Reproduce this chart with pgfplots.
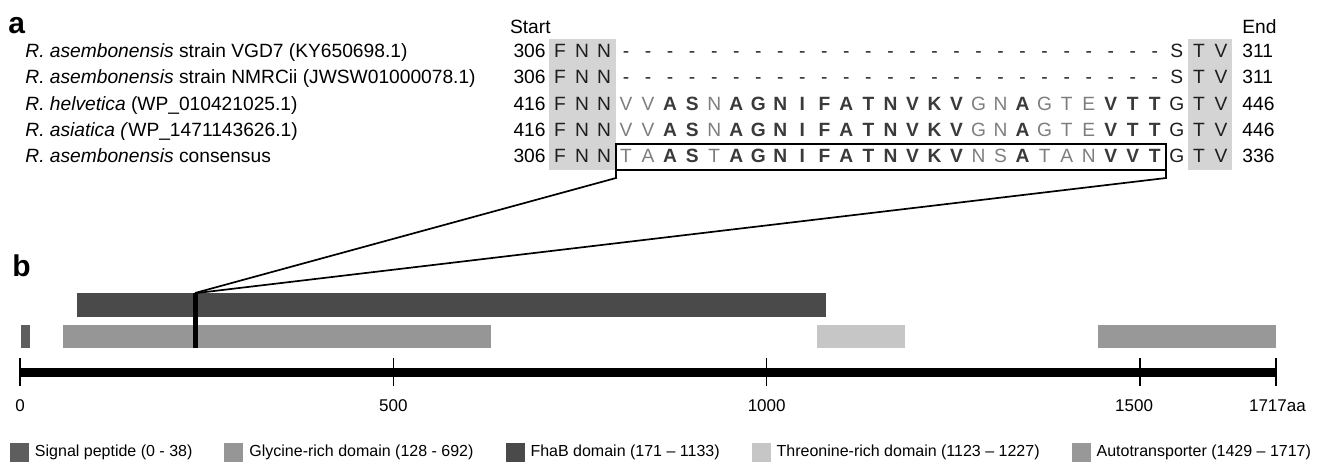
\documentclass[border=0pt]{standalone}
\usepackage{pgfplots}
\pgfplotsset{compat=1.18}
\usepackage{fontspec}
\setmainfont{Liberation Sans}
\definecolor{fhab}{HTML}{4A4A4A}
\definecolor{sig}{HTML}{5E5E5E}
\definecolor{gly}{HTML}{969696}
\definecolor{thr}{HTML}{C6C6C6}
\definecolor{autotr}{HTML}{989898}
\definecolor{boxgray}{HTML}{D4D4D4}
\definecolor{ncol}{HTML}{1E1E1E}
\definecolor{gcol}{HTML}{7E7E7E}
\definecolor{bcol}{HTML}{3A3A3A}
\newcommand\stn[1]{\textcolor{ncol}{#1}}
\newcommand\stg[1]{\textcolor{gcol}{#1}}
\newcommand\stb[1]{\textcolor{bcol}{\bfseries #1}}
\begin{document}
\begin{tikzpicture}
\begin{axis}[
  anchor=north west, at={(0,0)},
  x=0.37335pt, y=0.5pt, y dir=reverse,
  xmin=-26.78, xmax=1751.7, ymin=0, ymax=463,
  hide axis, clip=false,
  legend image code/.code={\fill[#1] (0pt,-4.75pt) rectangle (9.5pt,4.75pt);},
  legend style={at={(axis cs:-13.4,452)}, anchor=west, draw=none, fill=none,
    inner sep=0pt, outer sep=0pt, font=\fontsize{8}{9.6}\selectfont,
    column sep=3pt, /tikz/every even column/.append style={column sep=16pt},
    nodes={inner sep=0pt}},
  legend columns=5, legend cell align=left,
]
% domain bars (x in drawn aa units, y in rows)
\addplot[fill=sig, draw=none] coordinates {(1,325) (13,325) (13,348) (1,348)} -- cycle;
\addlegendentry{Signal peptide (0 - 38)}
\addplot[fill=gly, draw=none] coordinates {(58,325) (631,325) (631,348) (58,348)} -- cycle;
\addlegendentry{Glycine-rich domain (128 - 692)}
\addplot[fill=fhab, draw=none] coordinates {(76,293) (1079,293) (1079,317) (76,317)} -- cycle;
\addlegendentry{FhaB domain (171 -- 1133)}
\addplot[fill=thr, draw=none] coordinates {(1067,325) (1185,325) (1185,348) (1067,348)} -- cycle;
\addlegendentry{Threonine-rich domain (1123 -- 1227)}
\addplot[fill=autotr, draw=none] coordinates {(1444,325) (1682,325) (1682,348) (1444,348)} -- cycle;
\addlegendentry{Autotransporter (1429 -- 1717)}
% marker
\addplot[fill=black, draw=none, forget plot] coordinates {(232,293) (238,293) (238,348) (232,348)} -- cycle;
% ruler
\addplot[black, line width=4.5pt, forget plot] coordinates {(0,372.5) (1682,372.5)};
\addplot[black, line width=0.6pt, forget plot] coordinates {(0,358) (0,386)};
\addplot[black, line width=0.6pt, forget plot] coordinates {(500,358) (500,386)};
\addplot[black, line width=0.6pt, forget plot] coordinates {(1000,358) (1000,386)};
\addplot[black, line width=0.6pt, forget plot] coordinates {(1500,358) (1500,386)};
\addplot[black, line width=0.6pt, forget plot] coordinates {(1682,358) (1682,386)};
\begin{scope}[font=\fontsize{8.5}{10}\selectfont]
\node[anchor=mid] at (axis cs:0,406) {0};
\node[anchor=mid] at (axis cs:500,406) {500};
\node[anchor=mid] at (axis cs:1000,406) {1000};
\node[anchor=mid] at (axis cs:1492,406) {1500};
\node[anchor=mid] at (axis cs:1684,406) {1717aa};
\end{scope}
\end{axis}
\begin{scope}[x=0.5pt, y=-0.5pt, font=\fontsize{9.6}{11.5}\selectfont]
\fill[boxgray] (549,39) rectangle (615.5,170);
\fill[boxgray] (1188,39) rectangle (1232,170);
\node[anchor=base west, inner sep=0pt, font=\fontsize{15}{15}\selectfont\bfseries] at (8,33) {a};
\node[anchor=base west, inner sep=0pt, font=\fontsize{15}{15}\selectfont\bfseries] at (12,276) {b};
\node[anchor=mid east, inner sep=0pt] at (551,28) {Start};
\node[anchor=mid west, inner sep=0pt] at (1242,28) {End};
\node[anchor=mid west, inner sep=0pt] at (25,52) {\textit{R. asembonensis} strain VGD7 (KY650698.1)};
\node[anchor=mid west, inner sep=0pt] at (25,78) {\textit{R. asembonensis} strain NMRCii (JWSW01000078.1)};
\node[anchor=mid west, inner sep=0pt] at (25,105) {\textit{R. helvetica} (WP\_010421025.1)};
\node[anchor=mid west, inner sep=0pt] at (25,131) {\textit{R. asiatica (}WP\_1471143626.1)};
\node[anchor=mid west, inner sep=0pt] at (25,157) {\textit{R. asembonensis} consensus};
\node[anchor=mid east, inner sep=0pt] at (546,52) {306};
\node[anchor=mid east, inner sep=0pt] at (546,78) {306};
\node[anchor=mid east, inner sep=0pt] at (546,105) {416};
\node[anchor=mid east, inner sep=0pt] at (546,131) {416};
\node[anchor=mid east, inner sep=0pt] at (546,157) {306};
\node[anchor=mid west, inner sep=0pt] at (1242,52) {311};
\node[anchor=mid west, inner sep=0pt] at (1242,78) {311};
\node[anchor=mid west, inner sep=0pt] at (1242,105) {446};
\node[anchor=mid west, inner sep=0pt] at (1242,131) {446};
\node[anchor=mid west, inner sep=0pt] at (1242,157) {336};
\foreach \y in {52,78} {
\foreach \s/\c [count=\i] in {n/F,n/N,n/N,n/-,n/-,n/-,n/-,n/-,n/-,n/-,n/-,n/-,n/-,n/-,n/-,n/-,n/-,n/-,n/-,n/-,n/-,n/-,n/-,n/-,n/-,n/-,n/-,n/-,n/S,n/T,n/V}
  \node[anchor=mid] at ({560+22.03*(\i-1)},\y) {\csname st\s\endcsname{\c}};
}
\foreach \y in {105,131} {
\foreach \s/\c [count=\i] in {n/F,n/N,n/N,g/V,g/V,b/A,b/S,g/N,b/A,b/G,b/N,b/I,b/F,b/A,b/T,b/N,b/V,b/K,b/V,g/G,g/N,b/A,g/G,g/T,g/E,b/V,b/T,b/T,n/G,n/T,n/V}
  \node[anchor=mid] at ({560+22.03*(\i-1)},\y) {\csname st\s\endcsname{\c}};
}
\foreach \s/\c [count=\i] in {n/F,n/N,n/N,g/T,g/A,b/A,b/S,g/T,b/A,b/G,b/N,b/I,b/F,b/A,b/T,b/N,b/V,b/K,b/V,g/N,g/S,b/A,g/T,g/A,g/N,b/V,b/V,b/T,n/G,n/T,n/V}
  \node[anchor=mid] at ({560+22.03*(\i-1)},157) {\csname st\s\endcsname{\c}};
\draw[line width=0.85pt] (616,144) rectangle (1166,170);
\draw[line width=0.85pt] (616,170) -- (616,178) -- (195,293);
\draw[line width=0.85pt] (1166,170) -- (1166,178) -- (197,293);
\end{scope}
\pgfresetboundingbox
\path (0,0) rectangle (664pt,-231.5pt);
\end{tikzpicture}
\end{document}
